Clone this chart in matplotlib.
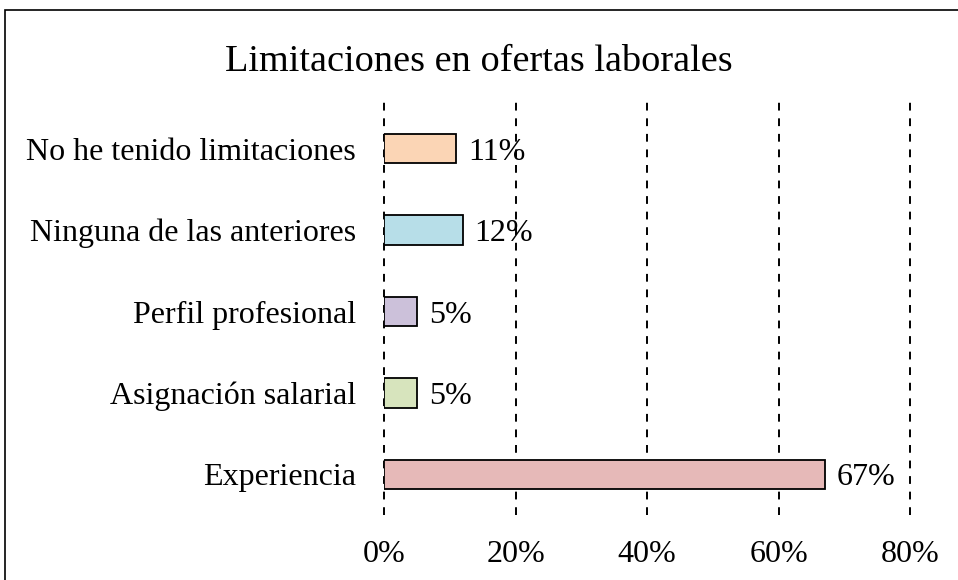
import matplotlib.pyplot as plt
from matplotlib.patches import Rectangle

# datos (de abajo hacia arriba)
categorias = ["Experiencia", "Asignación salarial", "Perfil profesional",
              "Ninguna de las anteriores", "No he tenido limitaciones"]
valores = [67, 5, 5, 12, 11]
colores = ["#E6B9B8", "#D7E4BD", "#CCC1DA", "#B7DEE8", "#FBD5B5"]
ticks_x = [0, 20, 40, 60, 80]

plt.rcParams['font.family'] = ['Liberation Serif', 'DejaVu Serif']

fig = plt.figure(figsize=(9.58, 5.8), dpi=100)
ax = fig.add_axes([384/958, 1 - 515/580, (910 - 384)/958, (515 - 95)/580])

# marco exterior del grafico
fig.patches.append(Rectangle((5/958, -0.1), 1.2, 1 - 10/580 + 0.1,
                             transform=fig.transFigure, fill=False,
                             edgecolor='black', linewidth=1.2))

ypos = list(range(len(categorias)))
ax.barh(ypos, valores, height=0.36, color=colores, edgecolor='black',
        linewidth=1.3, zorder=3)

for y, v in zip(ypos, valores):
    ax.text(v + 1.8, y, f"{v}%", va='center_baseline', ha='left',
            fontsize=23, zorder=4)

for t in ticks_x:
    ax.axvline(t, color='black', linestyle=(0, (4, 4)), linewidth=1.4,
               zorder=1, clip_on=False)

ax.set_xlim(0, 80)
ax.set_ylim(-0.5, 4.66)
ax.set_xticks(ticks_x)
ax.set_xticklabels([f"{t}%" for t in ticks_x], fontsize=23)
ax.set_yticks(ypos)
ax.set_yticklabels(categorias, fontsize=23)
ax.tick_params(length=0)
ax.tick_params(axis='y', pad=20)
ax.tick_params(axis='x', pad=18)
for s in ax.spines.values():
    s.set_visible(False)

fig.text(0.5, 1 - 58/580, "Limitaciones en ofertas laborales", ha='center',
         va='center_baseline', fontsize=27.5)

plt.savefig('out.png', dpi=100)
